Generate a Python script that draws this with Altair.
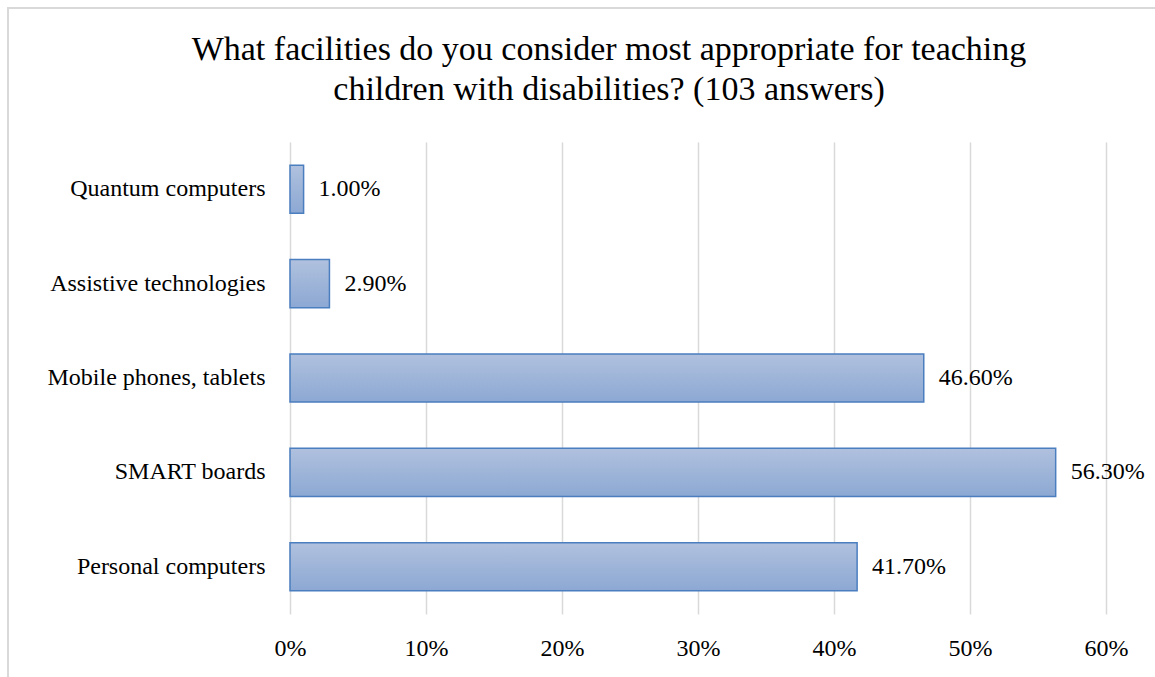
import altair as alt
import pandas as pd

categories = ["Quantum computers", "Assistive technologies", "Mobile phones, tablets", "SMART boards", "Personal computers"]
values = [1.00, 2.90, 46.60, 56.30, 41.70]
labels = ["1.00%", "2.90%", "46.60%", "56.30%", "41.70%"]
title_lines = ["What facilities do you consider most appropriate for teaching",
               "children with disabilities? (103 answers)"]

df = pd.DataFrame({"cat": categories, "val": [v / 100 for v in values], "lab": labels})
tdf = pd.DataFrame({"t": title_lines, "row": [0, 1]})
one = pd.DataFrame({"a": [0]})

FONT = "Liberation Serif"
FS = 24

ysc = alt.Y("cat:N", sort=categories, title=None,
            scale=alt.Scale(paddingInner=0.49, paddingOuter=0.245),
            axis=alt.Axis(labelFont=FONT, labelFontSize=FS, labelColor="#000000", labelLimit=400,
                          labelPadding=25, ticks=False, domain=False, grid=False))
xsc = alt.X("val:Q", title=None,
            scale=alt.Scale(domain=[0, 0.6], nice=False),
            axis=alt.Axis(format=".0%", values=[0, 0.1, 0.2, 0.3, 0.4, 0.5, 0.6],
                          labelFont=FONT, labelFontSize=FS, labelColor="#000000",
                          labelPadding=22, labelFlush=False, ticks=False, domain=False,
                          grid=True, gridColor="#d9d9d9", gridWidth=1.5))

border = alt.Chart(one).mark_rect(fill=None, stroke="#d9d9d9", strokeWidth=2).encode(
    x=alt.value(-282), x2=alt.value(880), y=alt.value(-134), y2=alt.value(560))

bars = alt.Chart(df).mark_bar(
    color=alt.Gradient(gradient="linear", x1=0, x2=0, y1=0, y2=1,
                       stops=[alt.GradientStop(color="#b0c1de", offset=0),
                              alt.GradientStop(color="#8ca8d3", offset=1)]),
    stroke="#4a7ebf", strokeWidth=1.5
).encode(x=xsc, y=ysc)

text = alt.Chart(df).mark_text(align="left", dx=15, font=FONT, fontSize=FS, color="#000000").encode(
    x="val:Q", y=alt.Y("cat:N", sort=categories), text="lab:N")

title1 = alt.Chart(one).mark_text(font=FONT, fontSize=34, fontWeight="normal", color="#000000",
                                  align="center", baseline="middle", text=title_lines[0]).encode(
    x=alt.value(319), y=alt.value(-92))
title2 = alt.Chart(one).mark_text(font=FONT, fontSize=34, fontWeight="normal", color="#000000",
                                  align="center", baseline="middle", text=title_lines[1]).encode(
    x=alt.value(319), y=alt.value(-52))

chart = alt.layer(border, bars, text, title1, title2).properties(
    width=816, height=472
).configure_view(stroke=None).properties(
    autosize=alt.AutoSizeParams(type="none"),
    padding={"left": 290, "top": 142, "right": 49, "bottom": 63}
)

chart.save("out.html", embed_options={"renderer": "svg", "actions": False})
